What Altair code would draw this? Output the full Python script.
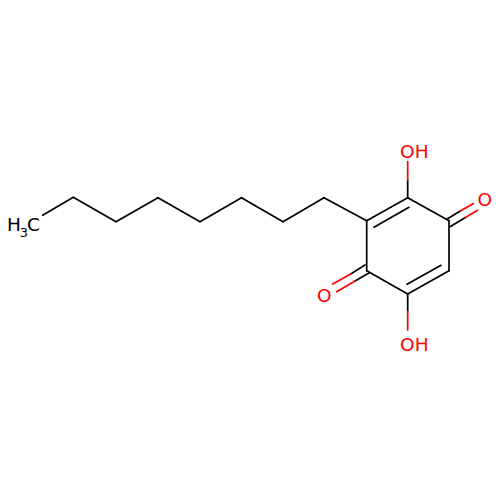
import altair as alt
import pandas as pd

# Line segments in page pixels (x1, y1, x2, y2)
black_x1 = [42.7, 73.3, 116.0, 158.0, 200.0, 241.5, 283.0, 324.0,
            366.7, 407.7, 449.0, 449.0, 407.7, 366.7,
            409.0, 441.0,
            446.7, 450.0, 365.0, 369.3,
            407.7, 407.7]
black_y1 = [215.3, 197.3, 221.7, 197.7, 221.7, 197.7, 221.7, 197.7,
            220.7, 197.7, 220.7, 270.7, 294.0, 270.7,
            207.3, 265.3,
            219.3, 226.7, 265.0, 272.7,
            197.7, 294.0]
black_x2 = [73.3, 116.0, 158.0, 200.0, 241.5, 283.0, 324.0, 366.7,
            407.7, 449.0, 449.0, 407.7, 366.7, 366.7,
            374.0, 407.0,
            460.7, 465.0, 350.7, 355.0,
            407.7, 407.7]
black_y2 = [197.3, 221.7, 197.7, 221.7, 197.7, 221.7, 197.7, 220.7,
            197.7, 220.7, 270.7, 294.0, 270.7, 220.7,
            227.3, 284.3,
            210.7, 217.7, 274.0, 281.0,
            180.0, 311.7]

red_x1 = [460.7, 465.0, 350.7, 355.0, 407.7, 407.7]
red_y1 = [210.7, 217.7, 274.0, 281.0, 180.0, 311.7]
red_x2 = [473.5, 477.5, 332.7, 336.7, 407.7, 407.7]
red_y2 = [203.4, 210.2, 284.0, 291.7, 161.7, 330.0]

# Labels
label_text = ["OH", "O", "O", "OH"]
label_x = [414.3, 484.7, 324.3, 414.3]
label_y = [152.0, 199.6, 296.3, 344.6]
methyl_text = ["H", "C"]
methyl_x = [14.0, 33.5]
methyl_y = [224.6, 224.6]
sub_text = ["3"]
sub_x = [24.0]
sub_y = [232.7]

MARGIN = 8
SIZE = 484
xs = alt.Scale(domain=[MARGIN, MARGIN + SIZE], range=[0, SIZE], nice=False, zero=False)
ys = alt.Scale(domain=[MARGIN, MARGIN + SIZE], range=[0, SIZE], nice=False, zero=False)
X = alt.X("x1:Q", scale=xs, axis=None)
Y = alt.Y("y1:Q", scale=ys, axis=None)

black = pd.DataFrame({"x1": black_x1, "y1": black_y1, "x2": black_x2, "y2": black_y2})
red = pd.DataFrame({"x1": red_x1, "y1": red_y1, "x2": red_x2, "y2": red_y2})
labels = pd.DataFrame({"x1": label_x, "y1": label_y, "t": label_text})
methyl = pd.DataFrame({"x1": methyl_x, "y1": methyl_y, "t": methyl_text})
sub = pd.DataFrame({"x1": sub_x, "y1": sub_y, "t": sub_text})

def rules(df, color):
    return alt.Chart(df).mark_rule(color=color, strokeWidth=1.7, strokeCap="round").encode(
        x=X, y=Y, x2="x2:Q", y2="y2:Q")

def texts(df, color, size):
    return alt.Chart(df).mark_text(color=color, font="DejaVu Sans", fontSize=size,
                                   align="center", baseline="middle").encode(
        x=X, y=Y, text="t:N")

chart = alt.layer(
    rules(black, "#000000"),
    rules(red, "#ff0000"),
    texts(labels, "#ff0000", 18.5),
    texts(methyl, "#000000", 18.5),
    texts(sub, "#000000", 13),
).properties(width=SIZE, height=SIZE,
             autosize=alt.AutoSizeParams(type="none"),
             padding={"left": 0, "top": 0, "right": 0, "bottom": 0},
             background="#ffffff"
).configure_view(stroke=None)

chart.save("out.html", embed_options={"renderer": "svg", "actions": False})
